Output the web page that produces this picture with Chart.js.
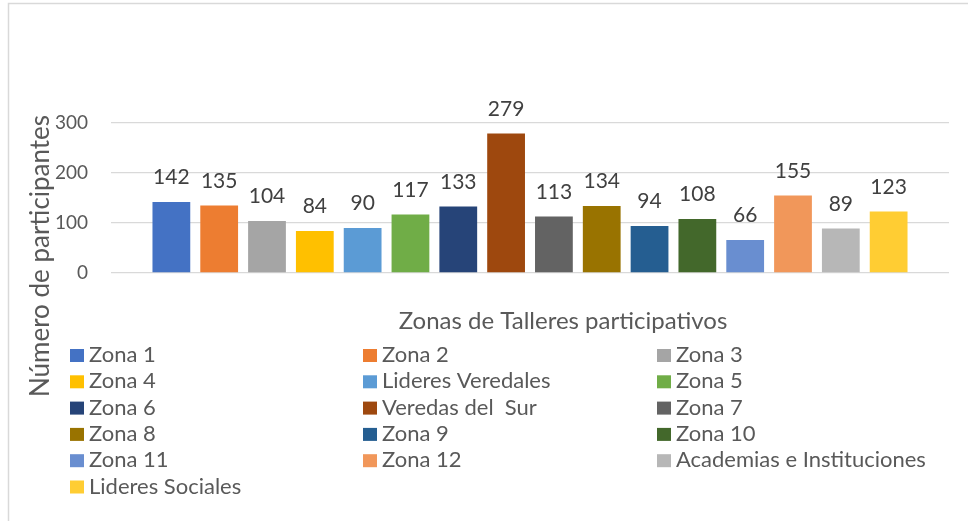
<!DOCTYPE html>
<html>
<head>
<meta charset="utf-8">
<script src="https://cdn.jsdelivr.net/npm/chart.js@4.4.0/dist/chart.umd.min.js"></script>
<style>
  html, body { margin: 0; padding: 0; background: #ffffff; }
  #wrap { width: 968px; height: 521px; }
</style>
</head>
<body>
<div id="wrap"><canvas id="zonasChart" width="968" height="521"></canvas></div>
<script>
  // Series names (one bar each)
  const seriesNames = [
    "Zona 1", "Zona 2", "Zona 3",
    "Zona 4", "Lideres Veredales", "Zona 5",
    "Zona 6", "Veredas del  Sur", "Zona 7",
    "Zona 8", "Zona 9", "Zona 10",
    "Zona 11", "Zona 12", "Academias e Instituciones",
    "Lideres Sociales"
  ];

  // Participants per series
  const participantes = [142, 135, 104, 84, 90, 117, 133, 279, 113, 134, 94, 108, 66, 155, 89, 123];

  // Office-style palette
  const seriesColors = [
    '#4472C4', '#ED7D31', '#A5A5A5',
    '#FFC000', '#5B9BD5', '#70AD47',
    '#264478', '#9E480E', '#636363',
    '#997300', '#255E91', '#43682B',
    '#698ED0', '#F1975A', '#B7B7B7',
    '#FFCD33'
  ];

  const yTicks = [0, 100, 200, 300];
  const xTitle = 'Zonas de Talleres participativos';
  const yTitle = 'Número de participantes';

  const FONT = 'Lato, "Open Sans", sans-serif';
  const TEXT = '#595959';

  // Frame, axis titles and legend drawn on the canvas
  const decorPlugin = {
    id: 'decor',
    beforeDraw(chart) {
      const ctx = chart.ctx;
      ctx.save();
      ctx.fillStyle = '#ffffff';
      ctx.fillRect(0, 0, chart.width, chart.height);
      ctx.strokeStyle = '#d9d9d9';
      ctx.lineWidth = 1.5;
      ctx.beginPath();
      ctx.moveTo(8.5, chart.height);
      ctx.lineTo(8.5, 3.5);
      ctx.lineTo(chart.width, 3.5);
      ctx.stroke();
      ctx.restore();
    },
    afterDraw(chart) {
      const ctx = chart.ctx;
      ctx.save();
      ctx.fillStyle = TEXT;

      // x title
      ctx.font = '24px ' + FONT;
      ctx.textAlign = 'center';
      ctx.textBaseline = 'alphabetic';
      ctx.fillText(xTitle, 563, 329);

      // y title
      ctx.save();
      ctx.translate(49, 256);
      ctx.rotate(-Math.PI / 2);
      ctx.font = '26px ' + FONT;
      ctx.fillText(yTitle, 0, 0);
      ctx.restore();

      // legend in three columns
      const colX = [70, 363, 657];
      ctx.font = '22px ' + FONT;
      ctx.textAlign = 'left';
      chart.data.datasets.forEach((ds, i) => {
        const col = i % 3;
        const row = Math.floor(i / 3);
        const baseY = 362 + row * 26.3;
        ctx.fillStyle = ds.backgroundColor;
        ctx.fillRect(colX[col], baseY - 13, 14, 13);
        ctx.fillStyle = TEXT;
        ctx.fillText(ds.label, colX[col] + 19, baseY);
      });
      ctx.restore();
    },
    afterDatasetsDraw(chart) {
      // value labels above each bar
      const ctx = chart.ctx;
      ctx.save();
      ctx.font = '21px ' + FONT;
      ctx.fillStyle = '#404040';
      ctx.textAlign = 'center';
      ctx.textBaseline = 'alphabetic';
      chart.data.datasets.forEach((ds, i) => {
        const meta = chart.getDatasetMeta(i);
        meta.data.forEach((bar, j) => {
          ctx.fillText(String(ds.data[j]), bar.x, bar.y - 18);
        });
      });
      ctx.restore();
    }
  };

  const datasets = seriesNames.map((name, i) => ({
    label: name,
    data: [participantes[i]],
    backgroundColor: seriesColors[i],
    borderWidth: 0,
    categoryPercentage: 0.913,
    barPercentage: 0.79
  }));

  new Chart(document.getElementById('zonasChart').getContext('2d'), {
    type: 'bar',
    data: {
      labels: [''],
      datasets: datasets
    },
    options: {
      responsive: false,
      animation: false,
      events: [],
      layout: {
        padding: { left: 0, right: 19, top: 123, bottom: 248 }
      },
      plugins: {
        legend: { display: false },
        tooltip: { enabled: false },
        title: { display: false }
      },
      scales: {
        x: {
          display: false
        },
        y: {
          min: 0,
          max: 300,
          afterFit(scale) { scale.width = 111; },
          afterBuildTicks(scale) { scale.ticks = yTicks.map(v => ({ value: v })); },
          border: { display: false },
          grid: { color: '#d9d9d9', lineWidth: 1.3, drawTicks: false },
          ticks: {
            padding: 23,
            color: TEXT,
            font: { family: FONT, size: 19 }
          }
        }
      }
    },
    plugins: [decorPlugin]
  });
</script>
</body>
</html>
